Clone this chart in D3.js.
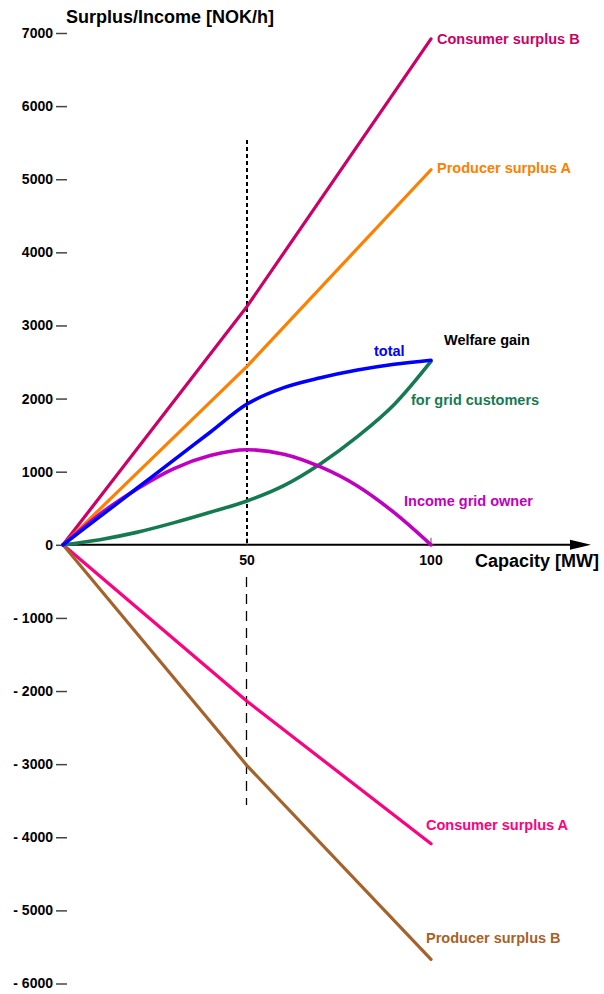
<!DOCTYPE html>
<html>
<head>
<meta charset="utf-8">
<script src="https://cdn.jsdelivr.net/npm/d3@7/dist/d3.min.js"></script>
<style>
  html, body { margin: 0; padding: 0; background: #fff; }
  svg { display: block; font-family: "Liberation Sans", Arial, sans-serif; font-weight: bold; }
</style>
</head>
<body>
<svg id="chart" width="604" height="994"></svg>
<script>
// ---- data ----
const capacity      = [0, 10, 20, 30, 40, 50, 60, 70, 80, 90, 100];
const totalGain     = [0, 385, 770, 1155, 1540, 1925, 2150, 2285, 2390, 2470, 2525];
const gridCustomers = [0, 70, 170, 300, 445, 600, 810, 1110, 1480, 1920, 2510];
const gridIncome    = [0, 420, 760, 1040, 1220, 1300, 1240, 1065, 805, 440, 0];

const capKinks   = [0, 50, 100];
const consumerB  = [0, 3260, 6920];
const producerA  = [0, 2440, 5130];
const consumerA  = [0, -2140, -4090];
const producerB  = [0, -3020, -5670];

const yTicks = [7000, 6000, 5000, 4000, 3000, 2000, 1000, 0, -1000, -2000, -3000, -4000, -5000, -6000];
const xTicks = [50, 100];

// ---- scales ----
const svg = d3.select("#chart");
const x = d3.scaleLinear().domain([0, 100]).range([63, 431]);
const y = d3.scaleLinear().domain([-6000, 7000]).range([983.5, 33]);

// ---- y axis (ticks only) ----
const yAxis = d3.axisLeft(y)
  .tickValues(yTicks)
  .tickSize(11)
  .tickPadding(3)
  .tickFormat(d => d < 0 ? "- " + Math.abs(d) : String(d));
const gy = svg.append("g").attr("transform", "translate(67,0)").call(yAxis);
gy.select(".domain").remove();
gy.selectAll(".tick line").attr("stroke", "#444").attr("stroke-width", 1.5);
gy.selectAll(".tick text")
  .attr("fill", "#000")
  .style("font-size", "14px")
  .style("font-weight", "bold")
  .style("font-family", "'Liberation Sans', Arial, sans-serif");

// ---- x axis ----
svg.append("line")
  .attr("x1", 62).attr("x2", 574)
  .attr("y1", y(0)).attr("y2", y(0))
  .attr("stroke", "#000").attr("stroke-width", 2);
svg.append("path")
  .attr("d", `M570,${y(0) - 5}L591,${y(0)}L570,${y(0) + 5}Z`)
  .attr("fill", "#000");
svg.selectAll(".xtick").data(xTicks).enter().append("line")
  .attr("x1", d => x(d)).attr("x2", d => x(d))
  .attr("y1", y(0)).attr("y2", y(0) - 7)
  .attr("stroke", "#555").attr("stroke-width", 1);
svg.selectAll(".xlab").data(xTicks).enter().append("text")
  .attr("x", d => x(d)).attr("y", y(0) + 20)
  .attr("text-anchor", "middle")
  .style("font-size", "14px")
  .text(d => d);

// ---- vertical reference line at 50 MW ----
svg.append("line")
  .attr("x1", x(50)).attr("x2", x(50))
  .attr("y1", 140).attr("y2", y(0))
  .attr("stroke", "#000").attr("stroke-width", 2)
  .attr("stroke-dasharray", "4,3");
svg.append("line")
  .attr("x1", Math.round(x(50)) - 0.5).attr("x2", Math.round(x(50)) - 0.5)
  .attr("y1", 577).attr("y2", 805)
  .attr("stroke", "#000").attr("stroke-width", 1.3)
  .attr("stroke-dasharray", "10,7");

// ---- titles ----
svg.append("text").attr("x", 66).attr("y", 23)
  .style("font-size", "18px").text("Surplus/Income [NOK/h]");
svg.append("text").attr("x", 475).attr("y", 567)
  .style("font-size", "18px").text("Capacity [MW]");

// ---- series ----
const straight = d3.line().x(d => x(d[0])).y(d => y(d[1]));
const smooth = d3.line().x(d => x(d[0])).y(d => y(d[1])).curve(d3.curveMonotoneX);

const lines = [
  { xs: capKinks, ys: consumerB, color: "#cc0066", gen: straight, w: 3.2 },
  { xs: capKinks, ys: producerA, color: "#ff8000", gen: straight, w: 3.2 },
  { xs: capKinks, ys: consumerA, color: "#ff0080", gen: straight, w: 3.2 },
  { xs: capKinks, ys: producerB, color: "#a5622a", gen: straight, w: 3.2 },
  { xs: capacity, ys: gridCustomers, color: "#157a52", gen: smooth, w: 3.6 },
  { xs: capacity, ys: gridIncome, color: "#c000c0", gen: smooth, w: 3.6 },
  { xs: capacity, ys: totalGain, color: "#0000ff", gen: smooth, w: 3.6 }
];
lines.forEach(s => {
  svg.append("path")
    .datum(s.xs.map((v, i) => [v, s.ys[i]]))
    .attr("d", s.gen)
    .attr("fill", "none")
    .attr("stroke", s.color)
    .attr("stroke-width", s.w)
    .attr("stroke-linejoin", "round")
    .attr("stroke-linecap", "round");
});

// ---- labels ----
const labels = [
  { t: "Consumer surplus B", x: 437, y: 44, c: "#cc0066" },
  { t: "Producer surplus A", x: 437, y: 173, c: "#ff8000" },
  { t: "total", x: 374, y: 356, c: "#0000ff" },
  { t: "Welfare gain", x: 444, y: 345, c: "#000000" },
  { t: "for grid customers", x: 411, y: 405, c: "#157a52" },
  { t: "Income grid owner", x: 404, y: 506, c: "#c000c0" },
  { t: "Consumer surplus A", x: 426, y: 830, c: "#ff0080" },
  { t: "Producer surplus B", x: 426, y: 943, c: "#a5622a" }
];
svg.selectAll(".lab").data(labels).enter().append("text")
  .attr("x", d => d.x).attr("y", d => d.y)
  .attr("fill", d => d.c)
  .style("font-size", "14.5px")
  .text(d => d.t);
</script>
</body>
</html>
